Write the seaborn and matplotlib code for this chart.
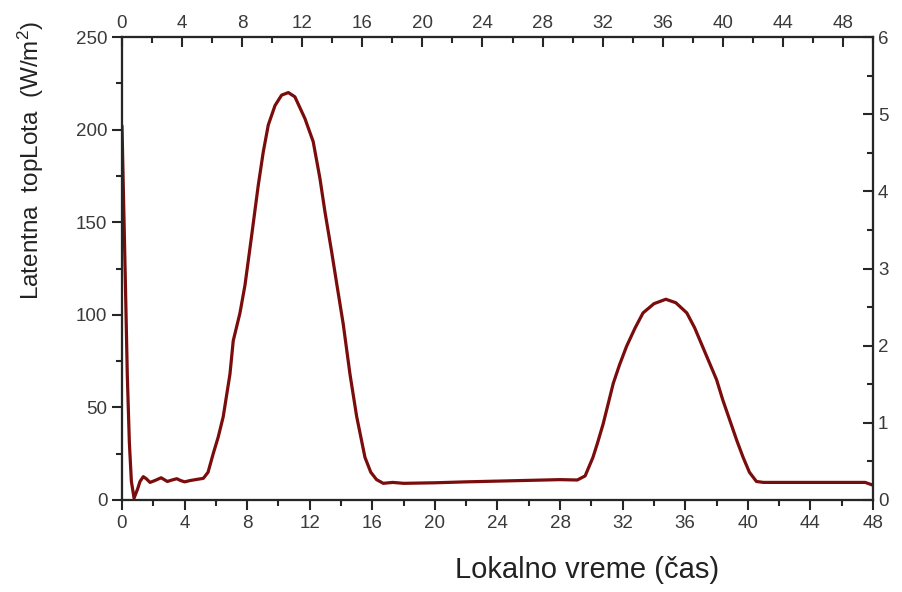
import matplotlib

matplotlib.use("Agg")
import matplotlib.pyplot as plt
import pandas as pd
import seaborn as sns
from matplotlib.ticker import MultipleLocator

# local time (h) and latent heat flux (W/m^2)
hours = [0, 0.05, 0.2, 0.34, 0.47, 0.6, 0.77, 1.0, 1.15, 1.36, 1.55, 1.79, 2.1,
         2.5, 2.9, 3.2, 3.5, 3.75, 4.0, 4.35, 4.7, 5.2, 5.5, 5.83, 6.15, 6.47,
         6.9, 7.11, 7.54, 7.86, 8.29, 8.71, 9.03, 9.35, 9.78, 10.2, 10.63, 11.05,
         11.69, 12.22, 12.65, 12.97, 13.4, 13.72, 14.14, 14.57, 15.0, 15.53,
         15.9, 16.27, 16.7, 17.3, 18, 20, 22, 24, 26, 28, 29.1, 29.6, 30.1, 30.4,
         30.75, 31.4, 31.8, 32.25, 32.8, 33.3, 34.0, 34.76, 35.4, 36.1, 36.6,
         37.1, 37.55, 38.0, 38.4, 38.85, 39.3, 39.7, 40.1, 40.55, 41, 42, 44, 46,
         47.5, 48]
heat = [202, 182, 124, 67, 31, 10, 1, 6, 10, 12.6, 11.5, 9.5, 10.5,
        12, 10, 10.8, 11.5, 10.5, 9.8, 10.5, 11, 11.7, 15, 25, 34, 45,
        68, 86, 101, 116, 143, 170, 188, 202.5, 213, 218.6, 220, 217.7,
        206, 193.5, 173.7, 155.7, 134, 117, 95, 68, 45, 23,
        15, 11, 9, 9.5, 9, 9.3, 9.8, 10.2, 10.6, 11, 10.8, 13, 23, 31,
        41, 63, 73, 83, 93, 101, 106, 108.4, 106.5, 101, 93,
        83, 74, 65, 54, 43, 32, 23, 15, 10, 9.5, 9.5, 9.5, 9.5,
        9.5, 8]

df = pd.DataFrame({"hour": hours, "heat": heat})

sns.set_style("ticks")
plt.rcParams["font.family"] = ["Liberation Sans", "DejaVu Sans"]
plt.rcParams["mathtext.fontset"] = "custom"
plt.rcParams["mathtext.rm"] = "Liberation Sans"
plt.rcParams["mathtext.it"] = "Liberation Sans"

fig = plt.figure(figsize=(9.03, 5.92), dpi=100)
ax = fig.add_axes([122 / 903, 1 - 500 / 592, 751 / 903, 463 / 592])

sns.lineplot(data=df, x="hour", y="heat", ax=ax, color="#7a0c0c",
             linewidth=2.3, estimator=None, sort=False)

tick_col = "#3a3a3a"
ax.set_xlim(0, 48)
ax.set_ylim(0, 250)
ax.xaxis.set_major_locator(MultipleLocator(4))
ax.xaxis.set_minor_locator(MultipleLocator(2))
ax.yaxis.set_major_locator(MultipleLocator(50))
ax.yaxis.set_minor_locator(MultipleLocator(25))
ax.tick_params(which="major", direction="out", length=7, width=1.5,
               labelsize=13.5, labelcolor=tick_col, top=False, right=False)
ax.tick_params(which="minor", direction="out", length=4, width=1.5,
               top=False, right=False)
for s in ax.spines.values():
    s.set_linewidth(1.5)
    s.set_color("black")

# top axis (0-50) and right axis (0-6)
top = ax.twiny()
top.set_xlim(0, 50)
top.xaxis.set_major_locator(MultipleLocator(4))
top.xaxis.set_minor_locator(MultipleLocator(2))
top.tick_params(which="major", direction="in", length=7, width=1.5,
                labelsize=13.5, labelcolor=tick_col)
top.tick_params(which="minor", direction="in", length=4, width=1.5)

right = ax.twinx()
right.set_ylim(0, 6)
right.yaxis.set_major_locator(MultipleLocator(1))
right.yaxis.set_minor_locator(MultipleLocator(0.5))
right.tick_params(which="major", direction="in", length=7, width=1.5,
                  labelsize=13.5, labelcolor=tick_col)
right.tick_params(which="minor", direction="in", length=4, width=1.5)
right.set_ylabel("")
for a in (top, right):
    for s in a.spines.values():
        s.set_linewidth(1.5)

ax.set_xlabel("Lokalno vreme (čas)", fontsize=21, color="#222222")
ax.xaxis.set_label_coords((587 - 122) / 751, (500 - 556) / 463)
ax.set_ylabel("Latentna  topLota  (W/m$^2$)", fontsize=17.5, color="#222222")
ax.yaxis.set_label_coords((46 - 122) / 751, (500 - 161) / 463)

plt.savefig("out.png", dpi=100)
plt.close()
